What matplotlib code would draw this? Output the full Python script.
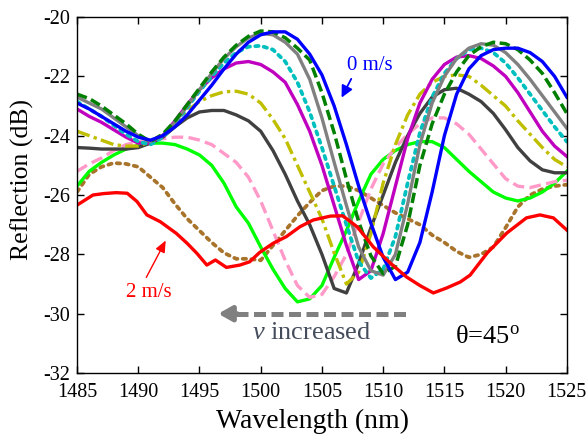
import numpy as np
import matplotlib
matplotlib.use("Agg")
from matplotlib import pyplot as plt

# wavelength grid (nm), shared by all curves except the noisy 2 m/s one
WL = np.arange(1485, 1526)

# reflection (dB), 0 m/s ... 2 m/s
V0 = [-22.9, -23.1, -23.35, -23.6, -23.85, -24.05, -24.15, -24.0, -23.7, -23.3,
      -22.8, -22.3, -21.75, -21.25, -20.85, -20.6, -20.5, -20.5, -20.75, -21.25,
      -21.95, -23.0, -24.3, -25.7, -26.95, -28.1, -28.85, -28.6, -27.6, -25.9,
      -24.0, -22.6, -21.75, -21.3, -21.1, -21.05, -21.05, -21.2, -21.5, -22.0, -22.7]
GREEN_DASH = [-22.6, -22.75, -23.0, -23.3, -23.6, -23.95, -24.2, -23.95, -23.5, -22.95,
              -22.4, -21.85, -21.35, -20.95, -20.65, -20.47, -20.5, -20.7, -21.05, -21.45,
              -22.55, -23.9, -25.45, -26.9, -28.05, -28.65, -28.4, -27.0, -25.0, -23.6,
              -22.6, -21.85, -21.3, -21.0, -20.85, -20.9, -21.1, -21.45, -21.9, -22.55, -23.25]
GRAY = [-22.7, -22.9, -23.1, -23.4, -23.7, -24.0, -24.2, -24.0, -23.55, -23.0,
        -22.45, -21.9, -21.4, -21.0, -20.7, -20.55, -20.6, -20.85, -21.25, -22.1,
        -23.4, -24.9, -26.35, -27.75, -28.55, -28.7, -28.0, -26.3, -24.3, -22.9,
        -22.0, -21.4, -21.05, -20.9, -20.95, -21.2, -21.6, -22.1, -22.65, -23.2, -23.75]
CYAN = [-22.85, -23.1, -23.35, -23.65, -23.95, -24.2, -24.3, -24.05, -23.6, -23.05,
        -22.5, -22.0, -21.55, -21.2, -21.0, -20.97, -21.1, -21.5, -22.2, -23.2,
        -24.4, -25.7, -27.0, -28.25, -28.8, -28.5, -27.4, -25.6, -23.9, -22.7,
        -21.9, -21.4, -21.1, -21.05, -21.2, -21.55, -22.05, -22.6, -23.15, -23.7, -24.2]
MAGENTA = [-23.1, -23.35, -23.55, -23.8, -24.05, -24.25, -24.25, -24.0, -23.5, -22.95,
           -22.45, -22.05, -21.75, -21.55, -21.5, -21.6, -21.85, -22.2, -22.95, -23.85,
           -25.0, -26.35, -27.7, -28.85, -28.55, -27.3, -25.7, -24.1, -22.9, -22.1,
           -21.6, -21.35, -21.3, -21.4, -21.65, -22.0, -22.55, -23.2, -23.85, -24.35, -24.7]
OLIVE = [-23.85, -24.0, -24.15, -24.3, -24.35, -24.35, -24.2, -23.95, -23.55, -23.15,
         -22.85, -22.65, -22.52, -22.5, -22.6, -22.9, -23.45, -24.1, -25.0, -25.9,
         -26.8, -27.95, -29.0, -28.6, -27.3, -25.6, -24.3, -23.3, -22.6, -22.2,
         -22.0, -21.95, -22.0, -22.3, -22.65, -23.0, -23.5, -23.95, -24.4, -24.8, -25.05]
DARK = [-24.4, -24.42, -24.45, -24.45, -24.45, -24.4, -24.25, -24.05, -23.7, -23.4,
        -23.2, -23.15, -23.15, -23.3, -23.5, -23.85, -24.5, -25.3, -26.2, -27.0,
        -28.0, -29.15, -29.3, -28.3, -27.1, -26.0, -24.9, -24.0, -23.25, -22.7,
        -22.45, -22.4, -22.6, -22.85, -23.25, -23.8, -24.4, -24.85, -25.15, -25.25, -25.25]
PINK = [-25.2, -24.95, -24.75, -24.5, -24.3, -24.2, -24.15, -24.1, -24.05, -24.05,
        -24.15, -24.3, -24.6, -24.9, -25.4, -26.2, -27.2, -28.2, -29.05, -29.45,
        -29.35, -28.75, -28.0, -26.9, -25.8, -24.95, -24.4, -23.95, -23.6, -23.4,
        -23.4, -23.6, -23.95, -24.45, -24.95, -25.45, -25.7, -25.75, -25.65, -25.55, -25.5]
LIME = [-25.7, -25.2, -24.9, -24.65, -24.45, -24.32, -24.25, -24.25, -24.3, -24.45,
        -24.65, -25.0, -25.6, -26.4, -26.95, -27.75, -28.5, -29.15, -29.6, -29.5,
        -29.05, -28.1, -27.2, -26.2, -25.3, -24.8, -24.5, -24.3, -24.2, -24.2,
        -24.4, -24.8, -25.2, -25.55, -25.9, -26.1, -26.2, -26.1, -25.9, -25.6, -25.2]
BROWN = [-25.9, -25.3, -25.05, -24.92, -24.95, -25.05, -25.4, -25.75, -26.3, -26.8,
         -27.2, -27.6, -27.95, -28.15, -28.15, -28.2, -27.7, -27.2, -26.7, -26.25,
         -25.85, -25.7, -25.7, -25.85, -26.1, -26.35, -26.6, -26.8, -27.0, -27.35,
         -27.6, -27.9, -28.1, -28.0, -27.75, -27.1, -26.4, -26.0, -25.8, -25.7, -25.65]

# 2 m/s curve is jagged, so it gets its own sample points
RED_WL = [1485, 1486.3, 1487.2, 1488.2, 1489.1, 1489.9, 1490.7, 1491.8, 1493.1, 1494.0,
          1494.8, 1495.6, 1496.3, 1497.2, 1498.3, 1499.1, 1499.9, 1501.0, 1502.1, 1503.2,
          1504.3, 1505.7, 1506.7, 1507.9, 1509.2, 1510.6, 1511.9, 1513.0, 1514.1, 1515.2,
          1516.3, 1517.1, 1518.5, 1520.1, 1521.7, 1522.8, 1523.9, 1525]
V2 = [-26.34, -26.0, -25.95, -25.92, -25.94, -26.22, -26.67, -26.9, -27.29, -27.63,
      -27.97, -28.36, -28.19, -28.44, -28.36, -28.25, -27.94, -27.63, -27.4, -27.07,
      -26.84, -26.71, -26.7, -27.08, -27.75, -28.3, -28.76, -29.05, -29.3, -29.13,
      -28.93, -28.7, -27.95, -27.28, -26.77, -26.67, -26.77, -27.18]

XTICKS = list(range(1485, 1526, 5))
YTICKS = list(range(-32, -19, 2))

plt.rcParams['font.family'] = ['Liberation Serif', 'DejaVu Serif']
plt.rcParams['axes.unicode_minus'] = False
plt.rcParams['mathtext.fontset'] = 'custom'
plt.rcParams['mathtext.rm'] = 'Liberation Serif'
plt.rcParams['mathtext.it'] = 'Liberation Serif:italic'

fig = plt.figure(figsize=(5.88, 4.42), dpi=100)
ax = fig.add_axes([0.131, 0.156, 0.833, 0.8055])

lw = 2.4
dot = (0, (0.9, 1.4))
ax.plot(WL, BROWN, color='#a8742c', lw=2.7, ls=dot, dash_capstyle='round')
ax.plot(WL, LIME, color='#00ff00', lw=lw)
ax.plot(WL, PINK, color='#ff99c8', lw=lw, ls=(0, (3.5, 1.6)))
ax.plot(WL, DARK, color='#404040', lw=lw)
ax.plot(WL, OLIVE, color='#bfbf00', lw=lw, ls=(0, (4, 1.3, 1, 1.3)))
ax.plot(WL, MAGENTA, color='#bf00bf', lw=lw)
ax.plot(WL, CYAN, color='#00bfbf', lw=2.7, ls=dot, dash_capstyle='round')
ax.plot(WL, GRAY, color='#808080', lw=lw)
ax.plot(WL, GREEN_DASH, color='#008000', lw=2.5, ls=(0, (3, 1.3)))
ax.plot(WL, V0, color='#0000ff', lw=lw)
ax.plot(RED_WL, V2, color='#ff0000', lw=lw)

ax.set_xlim(1485, 1525)
ax.set_ylim(-32, -20)
ax.set_xticks(XTICKS)
ax.set_yticks(YTICKS)
ax.tick_params(direction='in', top=True, right=True, length=5, width=1,
               labelsize=14.5, pad=5)
ax.tick_params(axis='x', pad=7)
for s in ax.spines.values():
    s.set_linewidth(1)

ax.set_xlabel('Wavelength (nm)', fontsize=20)
ax.xaxis.set_label_coords(0.48, -0.10)
ax.set_ylabel('Reflection (dB)', fontsize=18.5)
ax.yaxis.set_label_coords(-0.088, 0.545)

# annotations
ax.text(1508.9, -21.62, '0 m/s', color='#0000ff', fontsize=15, ha='center', va='center')
ax.annotate('', xy=(1506.5, -22.8), xytext=(1507.5, -22.0),
            arrowprops=dict(arrowstyle='-|>,head_width=0.35,head_length=0.7',
                            color='#0000ff', lw=1.3))
ax.text(1490.9, -29.3, '2 m/s', color='#ff0000', fontsize=15, ha='center', va='center')
ax.annotate('', xy=(1492.35, -27.45), xytext=(1490.55, -28.86),
            arrowprops=dict(arrowstyle='-|>,head_width=0.3,head_length=0.7',
                            color='#ff0000', lw=1.0))

ax.plot([1498.0, 1511.9], [-30.0, -30.0], color='#808080', lw=3.6, ls=(0, (2.4, 1.1)))
ax.annotate('', xy=(1496.3, -30.0), xytext=(1498.3, -30.0),
            arrowprops=dict(arrowstyle='-|>,head_width=0.45,head_length=0.8',
                            color='#808080', lw=3.6))
ax.text(1504.2, -30.65, r'$\mathit{v}$ increased', color='#454d5c', fontsize=19,
        ha='center', va='center')
ax.text(1515.9, -30.8, r'θ=45$^{\mathrm{o}}$', color='black', fontsize=19,
        ha='left', va='center')

fig.savefig('out.png', dpi=100)
